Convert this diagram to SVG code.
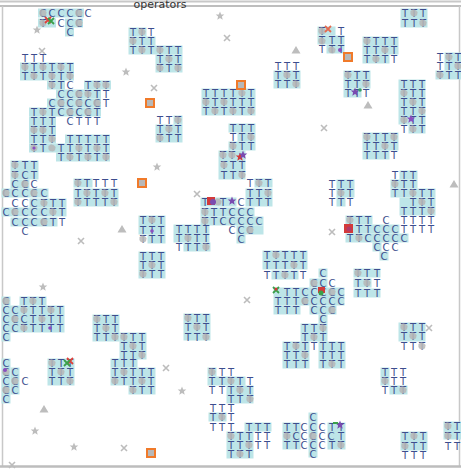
<svg xmlns="http://www.w3.org/2000/svg" xmlns:xlink="http://www.w3.org/1999/xlink" width="461" height="469" viewBox="0 0 461 469">
<style>
.t{font-family:"DejaVu Sans",sans-serif;font-size:10px;fill:#3d4d8e;text-anchor:middle}
.c{fill:#bde5e8}
</style>
<defs>
<path id="g" d="M-3.5,-2 L-1,-3.8 L1.6,-3 L3.6,-1 L3,2.2 L1,3.6 L-2.2,3 L-3.6,1 Z" fill="#b6b6b6" opacity="0.85"/>
<path id="st" d="M0,-4.5 L1.2,-1.5 L4.3,-1.4 L1.9,0.6 L2.7,3.7 L0,2 L-2.7,3.7 L-1.9,0.6 L-4.3,-1.4 L-1.2,-1.5 Z" fill="#bdbdbd"/>
<path id="x" d="M-3,-3 L3,3 M3,-3 L-3,3" stroke="#bcbcbc" stroke-width="1.6"/>
<path id="tri" d="M0,-4 L4.5,3.5 L-4.5,3.5 Z" fill="#bdbdbd"/>
<g id="osq"><rect x="-5" y="-5" width="10" height="10" fill="#f07a2a"/><rect x="-3" y="-3" width="6" height="6" fill="#b8b8b8"/></g>
<path id="mx" d="M-3,-3 L3,3 M3,-3 L-3,3" stroke-width="1.8"/>
<path id="ps" d="M0,-4.5 L1.2,-1.5 L4.3,-1.4 L1.9,0.6 L2.7,3.7 L0,2 L-2.7,3.7 L-1.9,0.6 L-4.3,-1.4 L-1.2,-1.5 Z"/>
</defs>
<rect width="461" height="469" fill="#ffffff"/>
<g id="frame">
<line x1="0" y1="1.5" x2="461" y2="1.5" stroke="#c8c8c8" stroke-width="2"/>
<line x1="0" y1="6" x2="461" y2="6" stroke="#a8a8a8" stroke-width="1.5"/>
<line x1="2.5" y1="6" x2="2.5" y2="466" stroke="#c8c8c8" stroke-width="1.5"/>
<line x1="459.5" y1="6" x2="459.5" y2="466" stroke="#c8c8c8" stroke-width="1.5"/>
<line x1="0" y1="466.5" x2="461" y2="466.5" stroke="#bdbdbd" stroke-width="2.5"/>
<text x="160" y="8" style="font-family:'DejaVu Sans',sans-serif;font-size:11px;fill:#333;text-anchor:middle">operators</text>
</g>
<g id="cyan">
<rect class="c" x="38" y="8.5" width="46" height="9"/><rect class="c" x="38" y="18.5" width="18" height="9"/><rect class="c" x="65" y="18.5" width="18" height="9"/><rect class="c" x="65" y="27.5" width="9" height="9"/>
<rect class="c" x="20" y="62.5" width="54" height="18"/><rect class="c" x="47" y="80.5" width="18" height="9"/><rect class="c" x="84" y="80.5" width="27" height="9"/><rect class="c" x="56" y="89.5" width="45" height="9"/><rect class="c" x="47" y="98.5" width="54" height="9"/><rect class="c" x="29" y="107.5" width="72" height="9"/><rect class="c" x="29" y="116.5" width="27" height="27"/><rect class="c" x="65" y="134.5" width="45" height="9"/><rect class="c" x="29" y="143.5" width="81" height="9"/><rect class="c" x="56" y="152.5" width="54" height="9"/>
<rect class="c" x="128.5" y="27.5" width="18" height="9"/><rect class="c" x="128.5" y="36.5" width="27" height="9"/><rect class="c" x="128.5" y="45.5" width="54" height="9"/><rect class="c" x="155.5" y="54.5" width="27" height="18"/>
<rect class="c" x="273.5" y="70.5" width="27" height="18"/>
<rect class="c" x="201.5" y="88.5" width="54" height="27"/>
<rect class="c" x="173.5" y="115.5" width="9" height="9"/><rect class="c" x="155.5" y="124.5" width="27" height="18"/>
<rect class="c" x="228.5" y="123.5" width="27" height="9"/><rect class="c" x="237.5" y="132.5" width="18" height="9"/><rect class="c" x="228.5" y="141.5" width="27" height="9"/><rect class="c" x="218.5" y="150.5" width="27" height="29"/>
<rect class="c" x="400.5" y="8.5" width="27" height="19"/>
<rect class="c" x="317.5" y="26.5" width="18" height="9"/><rect class="c" x="317.5" y="35.5" width="27" height="9"/><rect class="c" x="326.5" y="44.5" width="18" height="9"/>
<rect class="c" x="362.5" y="36.5" width="36" height="18"/><rect class="c" x="362.5" y="54.5" width="27" height="9"/>
<rect class="c" x="444.5" y="52.5" width="17" height="18"/><rect class="c" x="435.5" y="70.5" width="26" height="9"/>
<rect class="c" x="343.5" y="70.5" width="27" height="18"/><rect class="c" x="343.5" y="88.5" width="18" height="9"/>
<rect class="c" x="398.5" y="79.5" width="27" height="45"/><rect class="c" x="408.5" y="124.5" width="17" height="9"/>
<rect class="c" x="362.5" y="132.5" width="36" height="18"/><rect class="c" x="362.5" y="150.5" width="27" height="9"/>
<rect class="c" x="10.5" y="160.5" width="28" height="19"/><rect class="c" x="10.5" y="179.5" width="19" height="9"/><rect class="c" x="1.5" y="188.5" width="47" height="9"/><rect class="c" x="29.5" y="198.5" width="37" height="9"/><rect class="c" x="1.5" y="207.5" width="65" height="9"/><rect class="c" x="10.5" y="217.5" width="47" height="9"/>
<rect class="c" x="73.5" y="178.5" width="19" height="9"/><rect class="c" x="73.5" y="188.5" width="45" height="18"/>
<rect class="c" x="138.5" y="215.5" width="27" height="19"/><rect class="c" x="147.5" y="234.5" width="18" height="9"/>
<rect class="c" x="138.5" y="251.5" width="27" height="27"/>
<rect class="c" x="254.5" y="178.5" width="18" height="9"/><rect class="c" x="245.5" y="188.5" width="27" height="18"/>
<rect class="c" x="200.5" y="197.5" width="36" height="9"/><rect class="c" x="200.5" y="207.5" width="54" height="9"/><rect class="c" x="200.5" y="216.5" width="63" height="9"/><rect class="c" x="236.5" y="225.5" width="27" height="9"/><rect class="c" x="236.5" y="234.5" width="9" height="9"/>
<rect class="c" x="173.5" y="224.5" width="36" height="18"/><rect class="c" x="183.5" y="242.5" width="27" height="9"/>
<rect class="c" x="262.5" y="250.5" width="45" height="19"/><rect class="c" x="271.5" y="270.5" width="27" height="9"/>
<rect class="c" x="336.5" y="179.5" width="18" height="18"/><rect class="c" x="336.5" y="197.5" width="9" height="9"/>
<rect class="c" x="399.5" y="170.5" width="18" height="9"/><rect class="c" x="390.5" y="179.5" width="27" height="9"/><rect class="c" x="390.5" y="188.5" width="45" height="9"/><rect class="c" x="399.5" y="197.5" width="36" height="18"/>
<rect class="c" x="345.5" y="215.5" width="27" height="9"/><rect class="c" x="345.5" y="224.5" width="54" height="9"/><rect class="c" x="345.5" y="233.5" width="63" height="9"/><rect class="c" x="372.5" y="242.5" width="9" height="9"/><rect class="c" x="379.5" y="251.5" width="9" height="9"/>
<rect class="c" x="353.5" y="268.5" width="27" height="9"/><rect class="c" x="353.5" y="278.5" width="18" height="9"/><rect class="c" x="353.5" y="288.5" width="27" height="9"/>
<rect class="c" x="318.5" y="268.5" width="9" height="9"/><rect class="c" x="309.5" y="278.5" width="18" height="9"/><rect class="c" x="273.5" y="287.5" width="71" height="18"/><rect class="c" x="273.5" y="305.5" width="27" height="9"/><rect class="c" x="309.5" y="305.5" width="27" height="9"/><rect class="c" x="318.5" y="314.5" width="9" height="9"/>
<rect class="c" x="300.5" y="323.5" width="27" height="18"/><rect class="c" x="282.5" y="341.5" width="27" height="27"/><rect class="c" x="318.5" y="341.5" width="27" height="27"/>
<rect class="c" x="398.5" y="322.5" width="27" height="19"/>
<rect class="c" x="380.5" y="367.5" width="9" height="18"/><rect class="c" x="389.5" y="385.5" width="18" height="9"/>
<rect class="c" x="308.5" y="412.5" width="9" height="45"/><rect class="c" x="327.5" y="422.5" width="18" height="27"/><rect class="c" x="282.5" y="422.5" width="18" height="27"/>
<rect class="c" x="400.5" y="431.5" width="27" height="19"/>
<rect class="c" x="443.5" y="421.5" width="18" height="18"/>
<rect class="c" x="183.5" y="313.5" width="27" height="27"/>
<rect class="c" x="207.5" y="367.5" width="9" height="9"/><rect class="c" x="207.5" y="376.5" width="38" height="9"/><rect class="c" x="226.5" y="385.5" width="27" height="18"/>
<rect class="c" x="208.5" y="412.5" width="18" height="9"/><rect class="c" x="244.5" y="422.5" width="27" height="9"/><rect class="c" x="226.5" y="431.5" width="27" height="27"/>
<rect class="c" x="1.5" y="296.5" width="9" height="9"/><rect class="c" x="19.5" y="296.5" width="27" height="9"/><rect class="c" x="1.5" y="305.5" width="63" height="27"/><rect class="c" x="1.5" y="332.5" width="9" height="9"/>
<rect class="c" x="92.5" y="314.5" width="27" height="27"/>
<rect class="c" x="119.5" y="332.5" width="27" height="27"/>
<rect class="c" x="110.5" y="358.5" width="27" height="9"/><rect class="c" x="110.5" y="367.5" width="45" height="18"/><rect class="c" x="128.5" y="385.5" width="27" height="9"/>
<rect class="c" x="47.5" y="358.5" width="27" height="27"/>
<rect class="c" x="1.5" y="358.5" width="9" height="45"/><rect class="c" x="10.5" y="367.5" width="9" height="27"/>
</g>
<g id="letters">
<text class="t" x="43 52 61 70 79 88" y="17">CCCCCC</text><text class="t" x="43 61 70 79" y="27">TCCC</text><text class="t" x="70" y="36">C</text>
<text class="t" x="25 34 43" y="62">TTT</text>
<text class="t" x="25 34 43 52 61 70" y="71">TTTTTT</text>
<text class="t" x="25 34 43 52 61 70" y="80">TTTTTT</text>
<text class="t" x="52 61 70 88 97 106" y="89">TTCTTT</text>
<text class="t" x="61 70 79 88 97 106" y="98">CCCTTT</text>
<text class="t" x="52 61 70 79 88 97 106" y="107">CCCCCCT</text>
<text class="t" x="34 43 52 61 70 79 88 97" y="116">TTTCCCCT</text>
<text class="t" x="34 43 52 70 79 88 97" y="125">TTTCTTT</text>
<text class="t" x="34 43 52" y="134">TTT</text>
<text class="t" x="34 43 52 70 79 88 97 106" y="143">TTTTTTTT</text>
<text class="t" x="34 43 61 70 79 88 97 106" y="152">TTTTTTTT</text>
<text class="t" x="61 70 79 88 97 106" y="161">TTTTTT</text>
<text class="t" x="133 142 151" y="36">TTT</text><text class="t" x="133 142 151" y="45">TTT</text><text class="t" x="133 142 151 160 169 178" y="54">TTTTTT</text><text class="t" x="160 169 178" y="63">TTT</text><text class="t" x="160 169 178" y="72">TTT</text>
<text class="t" x="278 287 296" y="70">TTT</text><text class="t" x="278 287 296" y="79">TTT</text><text class="t" x="278 287 296" y="88">TTT</text>
<text class="t" x="206 215 224 233 242 251" y="97">TTTTTT</text><text class="t" x="206 215 224 233 242 251" y="106">TTTTTT</text><text class="t" x="206 215 224 233 242 251" y="115">TTTTTT</text>
<text class="t" x="160 169 178" y="124">TTT</text><text class="t" x="160 169 178" y="133">TTT</text><text class="t" x="160 169 178" y="142">TTT</text>
<text class="t" x="233 242 251" y="132">TTT</text><text class="t" x="233 242 251" y="141">TTT</text><text class="t" x="233 242 251" y="150">TTT</text><text class="t" x="223 232" y="159">TT</text><text class="t" x="224 233 242" y="169">TTT</text><text class="t" x="224 233 242" y="179">TTT</text>
<text class="t" x="405 414 423" y="17">TTT</text><text class="t" x="405 414 423" y="27">TTT</text>
<text class="t" x="322 341" y="35">TT</text><text class="t" x="322 332 341" y="44">TTT</text><text class="t" x="322 332 341" y="53">TTT</text>
<text class="t" x="367 376 385 394" y="45">TTTT</text><text class="t" x="367 376 385 394" y="54">TTTT</text><text class="t" x="367 376 385 394" y="63">TTTT</text>
<text class="t" x="440 449 458" y="61">TTT</text><text class="t" x="440 449 458" y="70">TTT</text><text class="t" x="440 449 458" y="79">TTT</text>
<text class="t" x="348 357 366" y="79">TTT</text><text class="t" x="348 357 366" y="88">TTT</text><text class="t" x="348 357 366" y="97">TTT</text>
<text class="t" x="404 413 422" y="88">TTT</text><text class="t" x="404 413 422" y="97">TTT</text><text class="t" x="404 413 422" y="106">TTT</text><text class="t" x="404 413 422" y="115">TTT</text><text class="t" x="404 413 422" y="124">TTT</text><text class="t" x="404 413 422" y="133">TTT</text>
<text class="t" x="367 376 385 394" y="141">TTTT</text><text class="t" x="367 376 385 394" y="150">TTTT</text><text class="t" x="367 376 385 394" y="159">TTTT</text>
<text class="t" x="15 25 34" y="169">TTT</text><text class="t" x="15 25 34" y="179">TCT</text><text class="t" x="15 25 34" y="188">CCC</text><text class="t" x="6 15 25 34 44" y="197">CCCCC</text><text class="t" x="15 25 34 44 53 62" y="207">CCCTTT</text><text class="t" x="6 15 25 34 44 53 62" y="216">CCCCCTT</text><text class="t" x="15 25 34 44 53 62" y="226">CCCCTT</text><text class="t" x="25" y="235">C</text>
<text class="t" x="78 87 96 105 114" y="187">TTTTT</text><text class="t" x="78 87 96 105 114" y="197">TTTTT</text><text class="t" x="78 87 96 105 114" y="206">TTTTT</text>
<text class="t" x="143 152 161" y="224">TTT</text><text class="t" x="143 152 161" y="234">TTT</text><text class="t" x="143 152 161" y="243">TTT</text>
<text class="t" x="143 152 161" y="260">TTT</text><text class="t" x="143 152 161" y="269">TTT</text><text class="t" x="143 152 161" y="278">TTT</text>
<text class="t" x="250 259 268" y="187">TTT</text><text class="t" x="250 259 268" y="197">TTT</text><text class="t" x="250 259 268" y="206">TTT</text>
<text class="t" x="205 223 241" y="206">TTC</text><text class="t" x="205 214 223 232 241 250" y="216">TTTCCC</text><text class="t" x="205 214 223 232 241 250 259" y="225">TTCCCCC</text><text class="t" x="232 241 250" y="234">CCC</text><text class="t" x="241" y="243">C</text>
<text class="t" x="179 188 197 206" y="233">TTTT</text><text class="t" x="179 188 197 206" y="242">TTTT</text><text class="t" x="179 188 197 206" y="251">TTTT</text>
<text class="t" x="267 276 285 294 303" y="259">TTTTT</text><text class="t" x="267 276 285 294 303" y="269">TTTTT</text><text class="t" x="267 276 285 294 303" y="279">TTTTT</text>
<text class="t" x="332 341 350" y="188">TTT</text><text class="t" x="332 341 350" y="197">TTT</text><text class="t" x="332 341 350" y="206">TTT</text>
<text class="t" x="395 404 413" y="179">TTT</text><text class="t" x="395 404 413" y="188">TTT</text><text class="t" x="395 404 413 422 431" y="197">TTTTT</text><text class="t" x="413 422 431" y="206">TTT</text><text class="t" x="404 413 422 431" y="215">TTTT</text>
<text class="t" x="350 359 368 386 404 413 422 431" y="224">TTTCTTTT</text><text class="t" x="359 368 377 386 395 404 413 422 431" y="233">TTCCCTTTT</text><text class="t" x="350 359 368 377 386 395 404" y="242">TTCCCCC</text><text class="t" x="377 386 395" y="251">CCC</text><text class="t" x="384" y="260">C</text>
<text class="t" x="358 367 377" y="277">TTT</text><text class="t" x="358 367 377" y="287">TTT</text><text class="t" x="358 367 377" y="297">TTT</text>
<text class="t" x="323" y="277">C</text><text class="t" x="314 323 332" y="287">CCC</text><text class="t" x="287 296 305 314 323 332 341" y="296">TTCCCCC</text><text class="t" x="278 287 296 305 314 323 332 341" y="305">TTTCCCCC</text><text class="t" x="278 287 296 314 323 332" y="314">TTTCCC</text><text class="t" x="323" y="323">C</text>
<text class="t" x="305 314 323" y="332">TTT</text><text class="t" x="305 314 323" y="341">TTT</text><text class="t" x="287 296 305 314 323 332 341" y="350">TTTTTTT</text><text class="t" x="287 296 305 323 332 341" y="359">TTTTTT</text><text class="t" x="287 296 305 323 332 341" y="368">TTTTTT</text>
<text class="t" x="404 413 422" y="331">TTT</text><text class="t" x="404 413 422" y="340">TTT</text><text class="t" x="404 413 422" y="350">TTT</text>
<text class="t" x="385 394 403" y="376">TTT</text><text class="t" x="385 394 403" y="385">TTT</text><text class="t" x="385 394 403" y="394">TTT</text>
<text class="t" x="313" y="421">C</text><text class="t" x="287 296 304 313 322 332 341" y="431">TTCCCTT</text><text class="t" x="287 296 304 313 322 331 341" y="440">TCCCCCT</text><text class="t" x="287 296 304 313 322 332 341" y="449">TTCCCTT</text><text class="t" x="313" y="458">C</text>
<text class="t" x="405 414 423" y="440">TTT</text><text class="t" x="405 414 423" y="450">TTT</text><text class="t" x="405 414 423" y="459">TTT</text>
<text class="t" x="448 457" y="430">TT</text><text class="t" x="448 457" y="440">TT</text><text class="t" x="448 457" y="450">TT</text>
<text class="t" x="188 197 206" y="322">TTT</text><text class="t" x="188 197 206" y="331">TTT</text><text class="t" x="188 197 206" y="341">TTT</text>
<text class="t" x="212 222 231" y="376">TTT</text><text class="t" x="212 222 231 240 250" y="385">TTTTT</text><text class="t" x="212 222 231 240 250" y="394">TTTTT</text><text class="t" x="231 240 250" y="403">TTT</text>
<text class="t" x="213 222 231" y="412">TTT</text><text class="t" x="213 222 231" y="421">TTT</text><text class="t" x="213 222 231 249 258 267" y="431">TTTTTT</text><text class="t" x="231 240 249 258 267" y="440">TTTTT</text><text class="t" x="231 240 249 258 267" y="449">TTTTT</text><text class="t" x="231 240 249" y="458">TTT</text>
<text class="t" x="6 24 33 42" y="305">CTTT</text><text class="t" x="6 15 24 33 42 51 60" y="314">CCTTTTT</text><text class="t" x="6 15 24 33 42 51 60" y="323">CCCTTTT</text><text class="t" x="6 15 24 33 42 51 60" y="332">CCTTTTT</text><text class="t" x="6" y="341">C</text>
<text class="t" x="97 106 115" y="323">TTT</text><text class="t" x="97 106 115" y="332">TTT</text><text class="t" x="97 106 115" y="341">TTT</text>
<text class="t" x="124 133 142" y="341">TTT</text><text class="t" x="124 133 142" y="350">TTT</text><text class="t" x="124 133 142" y="359">TTT</text>
<text class="t" x="115 124 133" y="367">TTT</text><text class="t" x="115 124 133 142 151" y="376">TTTTT</text><text class="t" x="115 124 133 142 151" y="385">TTTTT</text><text class="t" x="133 142 151" y="394">TTT</text>
<text class="t" x="52 61 70" y="367">TTT</text><text class="t" x="52 61 70" y="376">TTT</text><text class="t" x="52 61 70" y="385">TTT</text>
<text class="t" x="6" y="367">C</text><text class="t" x="6 15" y="376">CC</text><text class="t" x="6 15 25" y="385">CCC</text><text class="t" x="6 15" y="394">CC</text><text class="t" x="6" y="403">C</text>
</g>
<g id="grey">
<use href="#g" x="43" y="13"/><use href="#g" x="79" y="13"/><use href="#g" x="43" y="23"/><use href="#g" x="79" y="23"/>
<use href="#g" x="25" y="67"/><use href="#g" x="43" y="67"/><use href="#g" x="61" y="67"/><use href="#g" x="34" y="76"/><use href="#g" x="52" y="76"/><use href="#g" x="70" y="76"/><use href="#g" x="52" y="85"/><use href="#g" x="97" y="85"/><use href="#g" x="106" y="85"/><use href="#g" x="79" y="94"/><use href="#g" x="88" y="94"/><use href="#g" x="61" y="103"/><use href="#g" x="79" y="103"/><use href="#g" x="97" y="103"/><use href="#g" x="43" y="112"/><use href="#g" x="70" y="112"/><use href="#g" x="88" y="112"/><use href="#g" x="34" y="130"/><use href="#g" x="43" y="130"/><use href="#g" x="52" y="139"/><use href="#g" x="34" y="148"/><use href="#g" x="52" y="148"/><use href="#g" x="79" y="148"/><use href="#g" x="97" y="148"/><use href="#g" x="70" y="157"/><use href="#g" x="88" y="157"/><use href="#g" x="106" y="157"/>
<use href="#g" x="133" y="41"/><use href="#g" x="142" y="50"/><use href="#g" x="160" y="50"/><use href="#g" x="169" y="59"/><use href="#g" x="178" y="68"/><use href="#g" x="160" y="68"/><use href="#g" x="142" y="32"/>
<use href="#g" x="287" y="75"/><use href="#g" x="296" y="84"/>
<use href="#g" x="206" y="102"/><use href="#g" x="224" y="102"/><use href="#g" x="242" y="93"/><use href="#g" x="251" y="111"/><use href="#g" x="215" y="111"/><use href="#g" x="233" y="111"/>
<use href="#g" x="178" y="120"/><use href="#g" x="169" y="129"/><use href="#g" x="160" y="138"/>
<use href="#g" x="251" y="137"/><use href="#g" x="233" y="146"/><use href="#g" x="223" y="155"/><use href="#g" x="232" y="155"/><use href="#g" x="224" y="165"/><use href="#g" x="242" y="175"/>
<use href="#g" x="414" y="13"/><use href="#g" x="423" y="23"/>
<use href="#g" x="322" y="31"/><use href="#g" x="332" y="50"/><use href="#g" x="322" y="41"/>
<use href="#g" x="367" y="41"/><use href="#g" x="385" y="50"/><use href="#g" x="376" y="59"/>
<use href="#g" x="449" y="57"/><use href="#g" x="458" y="66"/><use href="#g" x="440" y="75"/>
<use href="#g" x="348" y="75"/><use href="#g" x="366" y="84"/>
<use href="#g" x="404" y="93"/><use href="#g" x="413" y="102"/><use href="#g" x="422" y="111"/><use href="#g" x="404" y="120"/><use href="#g" x="413" y="129"/>
<use href="#g" x="367" y="137"/><use href="#g" x="385" y="146"/><use href="#g" x="394" y="137"/>
<use href="#g" x="15" y="165"/><use href="#g" x="15" y="175"/><use href="#g" x="25" y="184"/><use href="#g" x="6" y="193"/><use href="#g" x="34" y="193"/><use href="#g" x="44" y="203"/><use href="#g" x="53" y="212"/><use href="#g" x="44" y="222"/><use href="#g" x="15" y="212"/>
<use href="#g" x="78" y="183"/><use href="#g" x="87" y="193"/><use href="#g" x="105" y="193"/><use href="#g" x="78" y="202"/><use href="#g" x="114" y="202"/>
<use href="#g" x="152" y="220"/><use href="#g" x="143" y="239"/><use href="#g" x="152" y="265"/><use href="#g" x="143" y="274"/>
<use href="#g" x="259" y="183"/><use href="#g" x="268" y="193"/>
<use href="#g" x="218" y="202"/><use href="#g" x="205" y="212"/><use href="#g" x="205" y="221"/><use href="#g" x="250" y="230"/>
<use href="#g" x="188" y="238"/><use href="#g" x="206" y="247"/>
<use href="#g" x="276" y="255"/><use href="#g" x="294" y="265"/><use href="#g" x="285" y="275"/>
<use href="#g" x="341" y="193"/>
<use href="#g" x="395" y="184"/><use href="#g" x="413" y="193"/><use href="#g" x="422" y="202"/><use href="#g" x="431" y="211"/>
<use href="#g" x="350" y="220"/><use href="#g" x="359" y="238"/>
<use href="#g" x="358" y="273"/><use href="#g" x="367" y="283"/>
<use href="#g" x="314" y="283"/><use href="#g" x="332" y="292"/><use href="#g" x="332" y="310"/><use href="#g" x="305" y="301"/>
<use href="#g" x="323" y="328"/><use href="#g" x="314" y="337"/><use href="#g" x="305" y="355"/><use href="#g" x="296" y="346"/><use href="#g" x="332" y="364"/>
<use href="#g" x="404" y="327"/><use href="#g" x="413" y="336"/><use href="#g" x="422" y="346"/>
<use href="#g" x="385" y="381"/><use href="#g" x="403" y="390"/>
<use href="#g" x="313" y="436"/><use href="#g" x="341" y="445"/><use href="#g" x="287" y="436"/>
<use href="#g" x="414" y="436"/><use href="#g" x="405" y="446"/>
<use href="#g" x="448" y="426"/><use href="#g" x="448" y="436"/>
<use href="#g" x="188" y="318"/><use href="#g" x="197" y="327"/><use href="#g" x="206" y="337"/>
<use href="#g" x="212" y="372"/><use href="#g" x="231" y="381"/><use href="#g" x="240" y="390"/><use href="#g" x="250" y="399"/>
<use href="#g" x="222" y="417"/><use href="#g" x="231" y="436"/><use href="#g" x="249" y="445"/><use href="#g" x="240" y="454"/>
<use href="#g" x="6" y="301"/><use href="#g" x="33" y="301"/><use href="#g" x="24" y="310"/><use href="#g" x="51" y="310"/><use href="#g" x="15" y="319"/><use href="#g" x="42" y="319"/><use href="#g" x="24" y="328"/>
<use href="#g" x="97" y="319"/><use href="#g" x="106" y="328"/><use href="#g" x="115" y="337"/>
<use href="#g" x="124" y="337"/><use href="#g" x="133" y="346"/><use href="#g" x="142" y="355"/>
<use href="#g" x="124" y="372"/><use href="#g" x="142" y="381"/><use href="#g" x="115" y="381"/><use href="#g" x="133" y="390"/>
<use href="#g" x="52" y="363"/><use href="#g" x="61" y="372"/><use href="#g" x="70" y="381"/>
<use href="#g" x="6" y="372"/><use href="#g" x="15" y="381"/><use href="#g" x="6" y="390"/>
</g>
<g id="operators">
<use href="#st" x="220" y="16"/><use href="#st" x="126" y="72"/><use href="#st" x="37" y="30"/><use href="#st" x="157" y="167"/><use href="#st" x="43" y="287"/><use href="#st" x="35" y="431"/><use href="#st" x="74" y="447"/><use href="#st" x="182" y="391"/>
<use href="#x" x="227" y="38"/><use href="#x" x="42" y="51"/><use href="#x" x="154" y="88"/><use href="#x" x="81" y="241"/><use href="#x" x="197" y="194"/><use href="#x" x="324" y="128"/><use href="#x" x="332" y="232"/><use href="#x" x="166" y="368"/><use href="#x" x="247" y="300"/><use href="#x" x="429" y="328"/><use href="#x" x="124" y="448"/><use href="#x" x="12" y="465"/>
<use href="#tri" x="296" y="50"/><use href="#tri" x="368" y="105"/><use href="#tri" x="454" y="184"/><use href="#tri" x="122" y="229"/><use href="#tri" x="44" y="409"/>
<use href="#osq" x="150" y="103"/><use href="#osq" x="241" y="85"/><use href="#osq" x="348" y="57"/><use href="#osq" x="142" y="183"/><use href="#osq" x="151" y="453"/>
<use href="#mx" x="48" y="20" stroke="#e0403a"/><use href="#mx" x="51" y="21" stroke="#3aa04a"/>
<use href="#mx" x="328" y="29" stroke="#e56a50"/>
<use href="#ps" x="240" y="157" fill="#d33a3a"/><use href="#ps" x="243" y="155" fill="#7a4bb0"/>
<circle cx="340" cy="50" r="2" fill="#8a4fbf"/>
<use href="#ps" x="355" y="92" fill="#7a4bb0"/><circle cx="360" cy="90" r="1.8" fill="#3aa06a"/>
<use href="#ps" x="411" y="119" fill="#8a4fbf"/>
<circle cx="152" cy="231" r="1.8" fill="#8a4fbf"/>
<circle cx="34" cy="148" r="1.6" fill="#8a4fbf"/>
<rect x="207" y="197" width="8" height="8" fill="#d33a3a"/><circle cx="213" cy="202" r="3" fill="#7a4bb0"/>
<use href="#ps" x="232" y="201" fill="#7a4bb0"/>
<rect x="344" y="224" width="9" height="9" fill="#d33a3a"/><circle cx="349" cy="229" r="2.5" fill="#b03a6a"/>
<use href="#mx" x="276" y="290" stroke="#3aa04a"/>
<rect x="318" y="287" width="7" height="6" fill="#d33a3a"/><circle cx="321" cy="293" r="2.5" fill="#3aa04a"/>
<circle cx="50" cy="328" r="1.8" fill="#8a4fbf"/>
<circle cx="5" cy="370" r="2" fill="#8a4fbf"/>
<use href="#mx" x="70" y="361" stroke="#e0403a"/><use href="#mx" x="67" y="363" stroke="#3aa04a"/>
<use href="#ps" x="340" y="425" fill="#7a4bb0"/><path d="M333,423 L338,423" stroke="#3aa04a" stroke-width="2"/>
<circle cx="276" cy="289" r="1.5" fill="#d33a3a"/>
</g>
</svg>
